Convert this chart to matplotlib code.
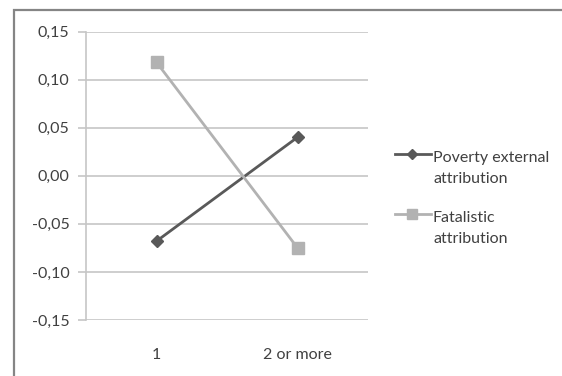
import matplotlib.pyplot as plt
from matplotlib.lines import Line2D
from matplotlib.patches import Rectangle

plt.rcParams['font.family'] = ['Lato', 'DejaVu Sans']

categories = ['1', '2 or more']
poverty_external = [-0.068, 0.040]
fatalistic = [0.118, -0.075]
y_ticks = [-0.15, -0.10, -0.05, 0.00, 0.05, 0.10, 0.15]
series_labels = ['Poverty external\nattribution', 'Fatalistic\nattribution']

text_color = '#404040'
grid_color = '#c6c6c6'
poverty_color = '#595959'
fatalistic_color = '#b2b2b2'

W, H = 562, 376
fig = plt.figure(figsize=(W / 100, H / 100), dpi=100)
ax = fig.add_axes([86 / W, 1 - 320 / H, 282 / W, 288.5 / H])

# chart frame around the whole area
fig.patches.append(Rectangle((14 / W, -0.1), 1.2, 1 - 10 / H + 0.1,
                             transform=fig.transFigure, fill=False,
                             edgecolor='#858585', linewidth=1.6))

x = list(range(len(categories)))
ax.plot(x, poverty_external, color=poverty_color, linewidth=2.0, marker='D',
        markersize=6.5, zorder=3)
ax.plot(x, fatalistic, color=fatalistic_color, linewidth=2.0, marker='s',
        markersize=8.5, zorder=3)

ax.set_xlim(-0.5, 1.5)
ax.set_ylim(-0.15, 0.15)
ax.set_xticks(x)
ax.set_xticklabels(categories)
ax.set_yticks(y_ticks)
ax.set_yticklabels(['{:.2f}'.format(v).replace('.', ',') for v in y_ticks])

ax.grid(axis='y', color=grid_color, linewidth=1.2)
ax.set_axisbelow(True)
for side in ['top', 'right', 'bottom']:
    ax.spines[side].set_visible(False)
ax.spines['left'].set_color(grid_color)
ax.spines['left'].set_linewidth(1.2)
ax.tick_params(axis='y', length=6, width=1.2, color=grid_color,
               labelsize=11.5, labelcolor=text_color, pad=6)
ax.tick_params(axis='x', length=0, labelsize=11.5, labelcolor=text_color, pad=20)

# legend: handle sits beside the first line of each label
legend_rows = [(154, poverty_color, 'D', 5), (214, fatalistic_color, 's', 6.5)]
for (y_px, col, mk, ms), label in zip(legend_rows, series_labels):
    yf = 1 - y_px / H
    fig.add_artist(Line2D([395 / W, 431 / W], [yf, yf], transform=fig.transFigure,
                          color=col, linewidth=2.0))
    fig.add_artist(Line2D([412 / W], [yf], transform=fig.transFigure,
                          color=col, marker=mk, markersize=ms, linestyle='none'))
    for i, line in enumerate(label.split('\n')):
        fig.text(433 / W, 1 - (y_px + 8 + 21 * i) / H, line, fontsize=11.5,
                 color=text_color, va='baseline', ha='left')

fig.savefig('out.png', dpi=100)
